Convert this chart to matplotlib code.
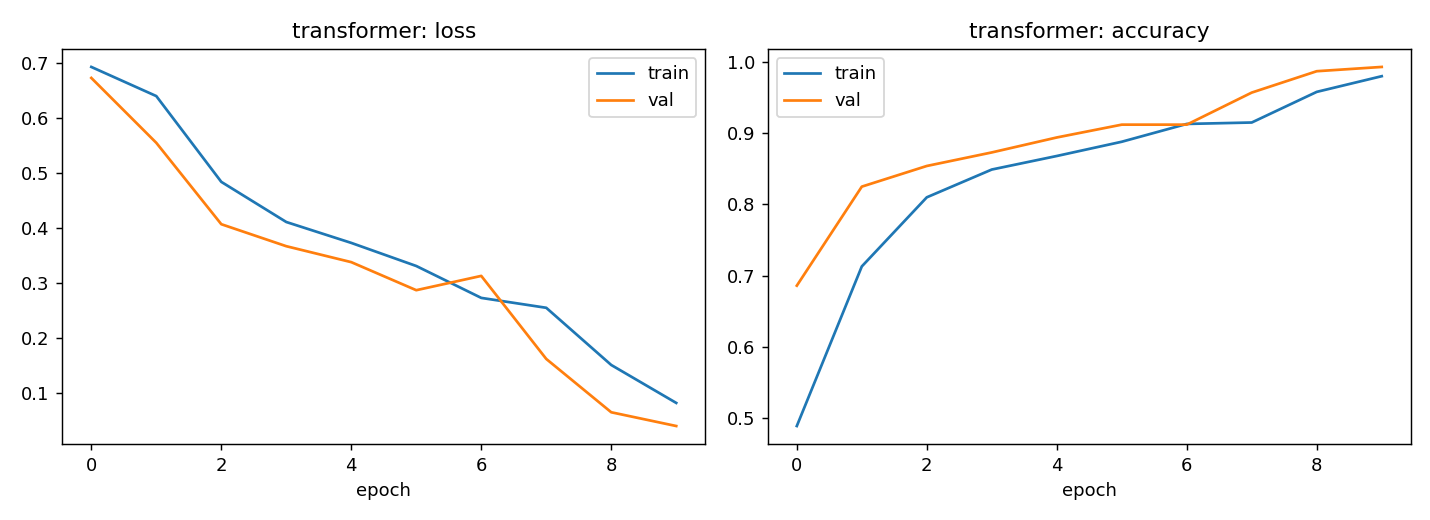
import matplotlib
matplotlib.use("Agg")
import matplotlib.pyplot as plt

epochs = list(range(10))
train_loss = [0.693, 0.640, 0.484, 0.411, 0.373, 0.331, 0.273, 0.255, 0.151, 0.082]
val_loss = [0.673, 0.555, 0.407, 0.367, 0.338, 0.287, 0.313, 0.162, 0.065, 0.040]
train_acc = [0.489, 0.713, 0.810, 0.849, 0.868, 0.888, 0.913, 0.915, 0.958, 0.980]
val_acc = [0.686, 0.825, 0.854, 0.873, 0.894, 0.912, 0.912, 0.957, 0.987, 0.993]

fig, axes = plt.subplots(1, 2, figsize=(11, 4), dpi=130)

ax = axes[0]
ax.plot(epochs, train_loss, label='train')
ax.plot(epochs, val_loss, label='val')
ax.set_title('transformer: loss')
ax.set_xlabel('epoch')
ax.legend()

ax = axes[1]
ax.plot(epochs, train_acc, label='train')
ax.plot(epochs, val_acc, label='val')
ax.set_title('transformer: accuracy')
ax.set_xlabel('epoch')
ax.legend()

# match the reference axes box positions
fig.subplots_adjust(left=0.0434, right=0.9867, top=0.9058, bottom=0.1462,
                    wspace=0.0965)
fig.savefig('out.png', dpi=130)
